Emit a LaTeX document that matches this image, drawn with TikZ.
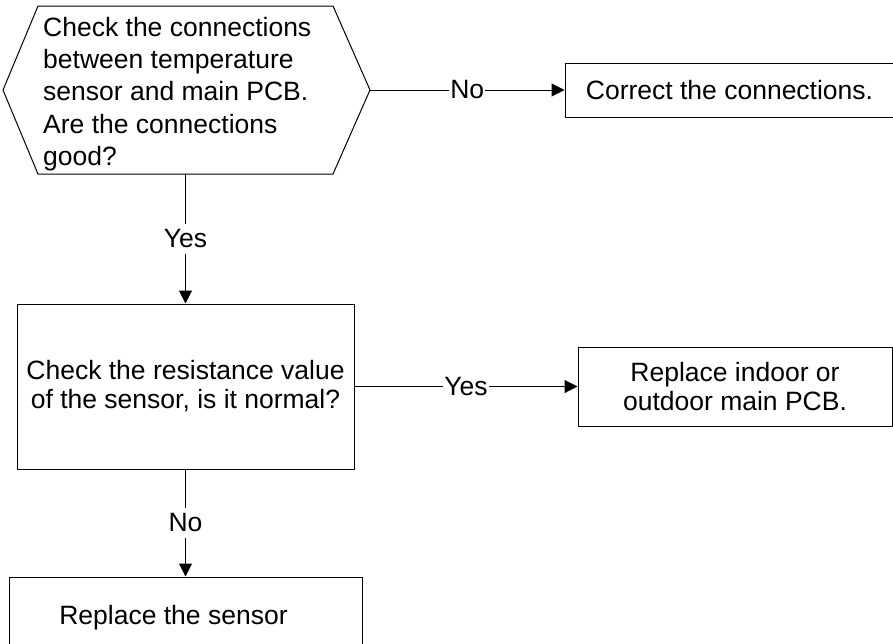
\documentclass[tikz,border=0pt]{standalone}
\usepackage{fontspec}
\setmainfont{Liberation Sans}
\usetikzlibrary{arrows.meta}

\begin{document}
\begin{tikzpicture}[line cap=round,line join=round,>={Triangle[length=13pt,width=13pt]},x=1pt,y=-1pt,
  txt/.style={font=\fontsize{26.5}{29}\selectfont},
  box/.style={draw=black,line width=1pt,txt,align=center,inner sep=0pt},
  flow/.style={->,line width=1pt},
  lbl/.style={fill=white,txt,inner xsep=1pt,inner ysep=6pt}]
\useasboundingbox (0,0) rectangle (893,643);
\clip (0,0) rectangle (893,643);
% decision hexagon
\coordinate (hexL) at (3,90);
\coordinate (hexR) at (370,90);
\coordinate (hexB) at (185.5,174);
\draw [line width=1pt] (hexL) -- (38,6) -- (333,6) -- (hexR) -- (333,174) -- (38,174) -- cycle;
\node [anchor=west,align=left,inner sep=0pt,font=\fontsize{26.5}{32.25}\selectfont] (chk) at (43,94) {Check the connections\\between temperature\\sensor and main PCB.\\Are the connections\\good?};
% boxes
\node [box,minimum width=329pt,minimum height=54pt] (cor) at (729.5,90) {Correct the connections.};
\node [box,minimum width=337pt,minimum height=165pt] (res) at (185.5,386.5) {Check the resistance value\\of the sensor, is it normal?};
\node [box,minimum width=314pt,minimum height=79pt] (pcb) at (735,386.5) {Replace indoor or\\outdoor main PCB.};
\node [box,minimum width=353pt,minimum height=82pt] (sen) at (185.5,618) {Replace the sensor\hspace{24pt}};
% connectors
\draw [flow] (hexR) -- node[lbl] {No} (cor);
\draw [flow] (hexB) -- node[lbl] {Yes} (res);
\draw [flow] (res) -- node[lbl] {Yes} (pcb);
\draw [flow] (res) -- node[lbl] {No} (sen);
\end{tikzpicture}
\end{document}
